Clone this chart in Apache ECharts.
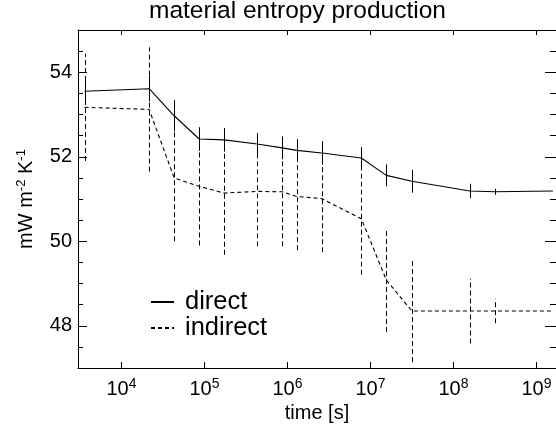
<!DOCTYPE html>
<html><head><meta charset="utf-8">
<script src="https://cdn.jsdelivr.net/npm/echarts@6/dist/echarts.min.js"></script>
<style>html,body{margin:0;padding:0;background:#fff}#c{width:556px;height:431px}</style>
</head><body><div id="c"></div>
<script>
// time [s]
const times = [3600, 21600, 43200, 86400, 172800, 432000, 864000, 1296000, 2592000, 7776000, 15552000, 31536000, 157680000, 315360000, 1576800000];
// direct estimate (mW m-2 K-1) and its error half-width
const direct = [53.55, 53.61, 52.97, 52.42, 52.40, 52.30, 52.21, 52.15, 52.09, 51.97, 51.56, 51.42, 51.19, 51.17, 51.19];
const directErr = [0.27, 0.30, 0.37, 0.28, 0.28, 0.26, 0.27, 0.27, 0.28, 0.26, 0.26, 0.27, 0.17, 0.07, null];
// indirect estimate and its error half-width
const indirect = [53.17, 53.12, 51.50, 51.30, 51.14, 51.18, 51.17, 51.06, 51.01, 50.53, 49.08, 48.35, 48.35, 48.35, 48.35];
const indirectErr = [1.27, 1.47, 1.50, 1.40, 1.46, 1.30, 1.29, 1.27, 1.27, 1.32, 1.23, 1.21, 0.77, 0.29, null];
const yTickLabels = [48, 50, 52, 54];
const xTickExponents = [4, 5, 6, 7, 8, 9];

const FONT = "'Liberation Sans', Arial, Helvetica, sans-serif";

function errData(vals, errs) {
  const out = [];
  times.forEach((t, i) => { if (errs[i] != null) out.push([t, vals[i] - errs[i], vals[i] + errs[i]]); });
  return out;
}
function errSeries(name, vals, errs, dash) {
  return {
    type: 'custom', name: name + ' err', silent: true, z: 2,
    encode: { x: 0, y: [1, 2] },
    data: errData(vals, errs),
    renderItem: function (params, api) {
      const p1 = api.coord([api.value(0), api.value(1)]);
      const p2 = api.coord([api.value(0), api.value(2)]);
      const x = Math.round(p1[0]) + 0.5;
      return { type: 'line', shape: { x1: x, y1: p1[1], x2: x, y2: p2[1] },
        style: { stroke: '#000', lineWidth: 1, lineDash: dash } };
    }
  };
}

const xMin = 3000, xMax = 1.72e9, yMin = 47, yMax = 55;
const xLabelFmt = function (v) {
  const e = Math.log10(v), r = Math.round(e);
  if (Math.abs(e - r) > 1e-6 || xTickExponents.indexOf(r) < 0) return '';
  return '{b|10}{s|' + r + '}';
};

const chart = echarts.init(document.getElementById('c'), null, { renderer: 'canvas' });
chart.setOption({
  animation: false,
  backgroundColor: '#fff',
  title: { text: 'material entropy production', left: 149, top: -1, padding: 0,
    textStyle: { fontFamily: FONT, fontSize: 24.5, fontWeight: 'normal', color: '#000' } },
  grid: { left: 78, right: -2, top: 30, bottom: 63, containLabel: false },
  legend: {
    orient: 'vertical', left: 150, top: 289, padding: 0, itemGap: 0,
    itemWidth: 23, itemHeight: 10,
    itemStyle: { opacity: 0 },
    data: ['direct', 'indirect'],
    textStyle: { fontFamily: FONT, fontSize: 25.5, lineHeight: 25, color: '#000', padding: [0, 0, 0, 6] }
  },
  xAxis: [
    { type: 'log', logBase: 10, min: xMin, max: xMax, position: 'bottom',
      name: 'time [s]', nameLocation: 'middle', nameGap: 32,
      nameTextStyle: { fontFamily: FONT, fontSize: 20, color: '#000' },
      axisLine: { show: true, lineStyle: { color: '#000', width: 1 } },
      axisTick: { show: true, inside: true, length: 6, lineStyle: { color: '#000' } },
      minorTick: { show: false }, splitLine: { show: false },
      axisLabel: { margin: 9, formatter: xLabelFmt, showMinLabel: false, showMaxLabel: false,
        rich: { b: { fontFamily: FONT, fontSize: 20, lineHeight: 24, color: '#000' },
                s: { fontFamily: FONT, fontSize: 14, lineHeight: 14, verticalAlign: 'top', color: '#000' } } } },
    { type: 'log', logBase: 10, min: xMin, max: xMax, position: 'top',
      axisLine: { show: true, lineStyle: { color: '#000', width: 1 } },
      axisTick: { show: true, inside: true, length: 5, lineStyle: { color: '#000' } },
      splitLine: { show: false }, axisLabel: { show: false } }
  ],
  yAxis: [
    { type: 'value', min: yMin, max: yMax, splitNumber: 4, position: 'left',
      name: 'mW m{s|-2} K{s|-1}', nameLocation: 'middle', nameRotate: 90, nameGap: 41,
      nameTextStyle: { fontFamily: FONT, fontSize: 20, lineHeight: 22, color: '#000',
        rich: { s: { fontFamily: FONT, fontSize: 13, lineHeight: 13, verticalAlign: 'top', color: '#000' } } },
      axisLine: { show: true, lineStyle: { color: '#000', width: 1 } },
      axisTick: { show: true, inside: true, length: 9, lineStyle: { color: '#000' } },
      splitLine: { show: false },
      axisLabel: { margin: 6, fontFamily: FONT, fontSize: 20, color: '#000',
        formatter: function (v) { return yTickLabels.indexOf(v) >= 0 ? String(v) : ''; } } },
    { type: 'value', min: yMin, max: yMax, interval: 0.5, position: 'left',
      axisLine: { show: false }, axisLabel: { show: false }, splitLine: { show: false },
      axisTick: { show: true, inside: true, length: 5, lineStyle: { color: '#000' } } },
    { type: 'value', min: yMin, max: yMax, splitNumber: 4, position: 'right',
      axisLine: { show: false }, axisLabel: { show: false }, splitLine: { show: false },
      axisTick: { show: true, inside: true, length: 11, lineStyle: { color: '#000' } } },
    { type: 'value', min: yMin, max: yMax, interval: 0.5, position: 'right',
      axisLine: { show: false }, axisLabel: { show: false }, splitLine: { show: false },
      axisTick: { show: true, inside: true, length: 6, lineStyle: { color: '#000' } } }
  ],
  series: [
    errSeries('indirect', indirect, indirectErr, [5, 3]),
    errSeries('direct', direct, directErr, null),
    { type: 'line', name: 'indirect', z: 3, data: times.map((t, i) => [t, indirect[i]]),
      symbol: 'none', lineStyle: { color: '#000', width: 1.1, type: [4, 3] }, itemStyle: { color: '#000' } },
    { type: 'line', name: 'direct', z: 4, data: times.map((t, i) => [t, direct[i]]),
      symbol: 'none', lineStyle: { color: '#000', width: 1.1, type: 'solid' }, itemStyle: { color: '#000' } }
  ]
});
</script></body></html>
